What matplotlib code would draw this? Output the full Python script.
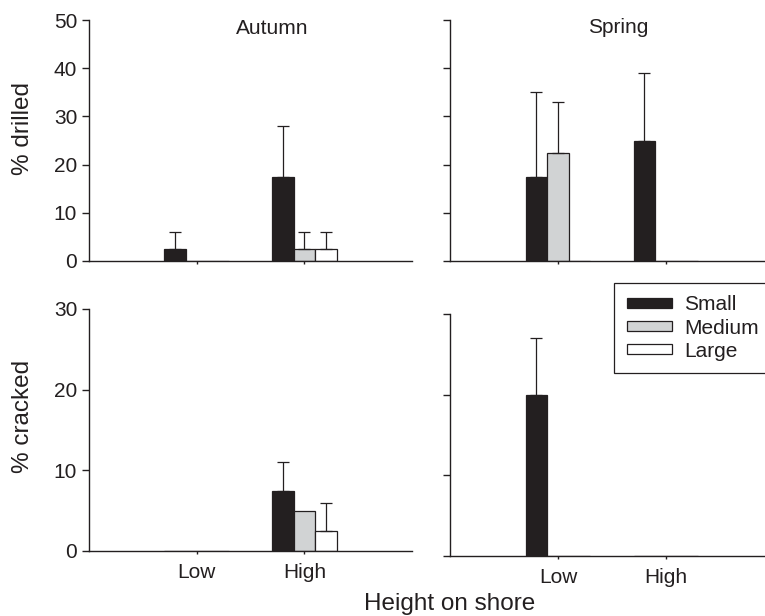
import numpy as np
import matplotlib.pyplot as plt

plt.rcParams['font.family'] = ['Liberation Sans', 'DejaVu Sans']

heights = ['Low', 'High']
sizes = ['Small', 'Medium', 'Large']
colors = ['#231f20', '#d1d3d4', '#ffffff']

# % drilled, rows = size class, columns = Low, High
autumn_drilled = [[2.5, 17.5], [0, 2.5], [0, 2.5]]
autumn_drilled_err = [[3.5, 10.5], [0, 3.5], [0, 3.5]]
spring_drilled = [[17.5, 25], [22.5, 0], [0, 0]]
spring_drilled_err = [[17.5, 14], [10.5, 0], [0, 0]]

# % cracked
autumn_cracked = [[0, 7.5], [0, 5], [0, 2.5]]
autumn_cracked_err = [[0, 3.5], [0, 0], [0, 3.5]]
spring_cracked = [[20, 0], [0, 0], [0, 0]]
spring_cracked_err = [[7, 0], [0, 0], [0, 0]]

W, H = 765, 616
fig = plt.figure(figsize=(W / 100, H / 100), dpi=100)

def add_ax(l, r, t, b):
    return fig.add_axes([l / W, 1 - b / H, (r - l) / W, (b - t) / H])

ink = '#231f20'
x = np.arange(len(heights))
offsets = [-0.2, 0, 0.2]

def draw(ax, vals, errs, ymax, ylabels, xlabels):
    bars = []
    for i in range(len(sizes)):
        b = ax.bar(x + offsets[i], vals[i], width=0.2, color=colors[i],
                   edgecolor=ink, linewidth=0.9, zorder=2, label=sizes[i])
        bars.append(b)
        for j in range(len(heights)):
            if errs[i][j] > 0:
                ax.errorbar(x[j] + offsets[i], vals[i][j], yerr=[[0], [errs[i][j]]],
                            fmt='none', ecolor=ink, elinewidth=0.9,
                            capsize=4, capthick=0.9, zorder=3)
    ax.set_xlim(-1, 2)
    ax.set_ylim(0, ymax)
    ax.set_yticks(np.arange(0, ymax + 1, 10))
    ax.set_xticks(x)
    ax.set_xticklabels(heights if xlabels else [])
    if not ylabels:
        ax.set_yticklabels([])
    for s in ['top', 'right']:
        ax.spines[s].set_visible(False)
    for s in ['left', 'bottom']:
        ax.spines[s].set_linewidth(1.0)
        ax.spines[s].set_color(ink)
    ax.tick_params(axis='y', length=5, width=1.0, pad=3.5, labelsize=15, colors=ink)
    ax.tick_params(axis='x', length=2.5, width=1.0, pad=6, labelsize=15, colors=ink)
    return bars

ax1 = add_ax(89, 412, 20, 261)
ax2 = add_ax(450, 774, 20, 261)
ax3 = add_ax(89, 412, 309, 551)
ax4 = add_ax(450, 774, 314, 556)

bars = draw(ax1, autumn_drilled, autumn_drilled_err, 50, True, False)
draw(ax2, spring_drilled, spring_drilled_err, 50, False, False)
draw(ax3, autumn_cracked, autumn_cracked_err, 30, True, True)
draw(ax4, spring_cracked, spring_cracked_err, 30, False, True)

fig.text(272 / W, 1 - 34 / H, 'Autumn', ha='center', va='baseline', fontsize=15, color=ink)
fig.text(618 / W, 1 - 33 / H, 'Spring', ha='center', va='baseline', fontsize=15, color=ink)

fig.text(23 / W, 1 - 128 / H, '% drilled', rotation=90, ha='center', va='center',
         fontsize=17.5, color=ink)
fig.text(23 / W, 1 - 416 / H, '% cracked', rotation=90, ha='center', va='center',
         fontsize=17.5, color=ink)
fig.text(450 / W, 1 - 610 / H, 'Height on shore', ha='center', va='baseline',
         fontsize=17.5, color=ink)

leg = ax4.legend([b[0] for b in bars], sizes, loc='upper left',
                 bbox_to_anchor=(614 / W, 1 - 283 / H), bbox_transform=fig.transFigure,
                 fontsize=15, frameon=True, fancybox=False, framealpha=1,
                 edgecolor=ink, borderpad=0.6, handlelength=2.2, handleheight=0.35,
                 handletextpad=0.55, labelspacing=0.2, borderaxespad=0)
leg.get_frame().set_linewidth(0.9)
for t in leg.get_texts():
    t.set_color(ink)

fig.savefig('out.png', dpi=100)
